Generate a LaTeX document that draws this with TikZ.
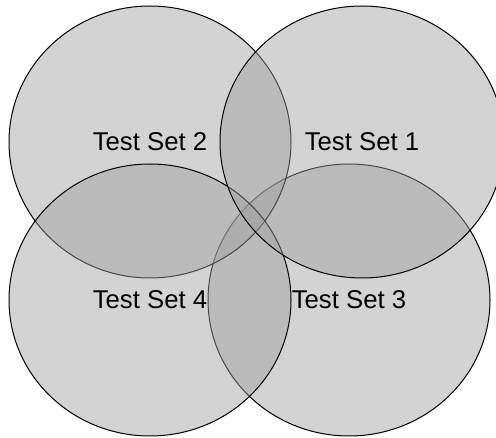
\documentclass[tikz,border=0pt]{standalone}
\usepackage{fontspec}
\setmainfont{Liberation Sans}
\usetikzlibrary{shapes.geometric}
\tikzset{every picture/.style={line width=0.75pt}}
\tikzset{
  testset/.style={ellipse, draw={rgb, 255:red, 0; green, 0; blue, 0 }, line width=0.75pt,
    fill={rgb, 255:red, 158; green, 158; blue, 158 }, fill opacity=0.45,
    inner sep=0pt, minimum width=211.5pt, minimum height=204pt},
  setlabel/.style={inner sep=0.75pt, font=\fontsize{19.3}{23}\selectfont}
}
\begin{document}
\begin{tikzpicture}[x=0.75pt,y=0.75pt,yscale=-1,xscale=1]
\useasboundingbox (0,0) rectangle (496,438);

%Shape: Ellipse [Test Set 3]
\node [testset] (set3) at (349,300) {};
%Shape: Ellipse [Test Set 2]
\node [testset] (set2) at (150,142) {};
%Shape: Ellipse [Test Set 4]
\node [testset] (set4) at (150,300) {};
%Shape: Ellipse [Test Set 1]
\node [testset, minimum width=213pt] (set1) at (362,142) {};

% Text Node
\node [setlabel] (lbl2) at (set2.center) {Test Set 2};
% Text Node
\node [setlabel] (lbl1) at (set1.center) {Test Set 1};
% Text Node
\node [setlabel] (lbl4) at (set4.center) {Test Set 4};
% Text Node
\node [setlabel] (lbl3) at (set3.center) {Test Set 3};

\end{tikzpicture}
\end{document}
